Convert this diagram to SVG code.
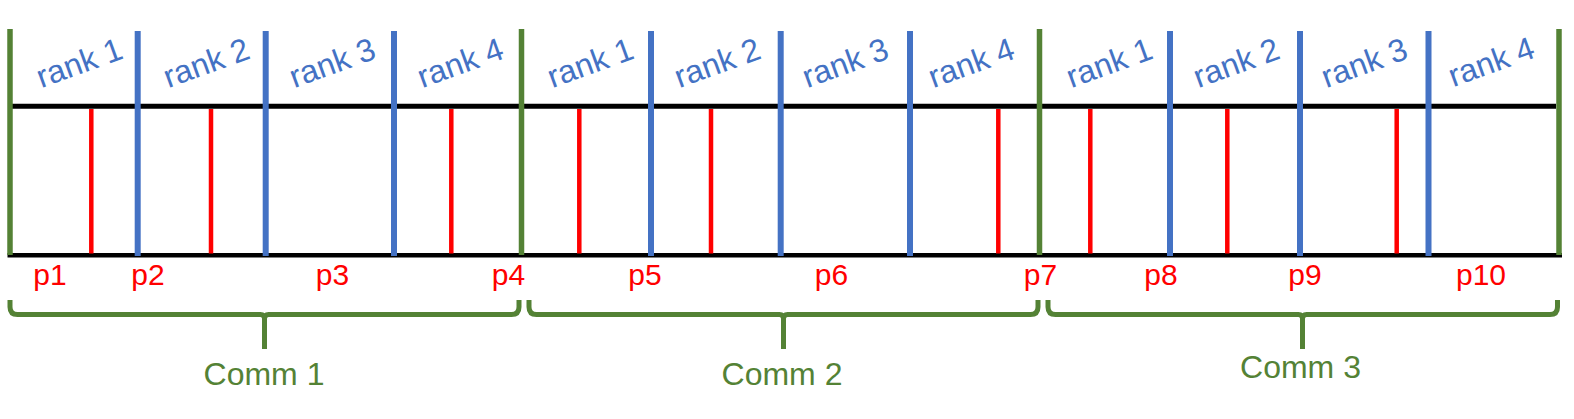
<svg xmlns="http://www.w3.org/2000/svg" width="1574" height="419" viewBox="0 0 1574 419">
<style>
.blk{stroke:#000;stroke-width:5;fill:none}
.grn{stroke:#548235;stroke-width:5.5;fill:none}
.blu{stroke:#4472C4;stroke-width:6;fill:none}
.red{stroke:#FF0000;stroke-width:4.5;fill:none}
.brace{stroke:#548235;stroke-width:5;fill:none}
.rank{font-family:"Liberation Sans",Arial,sans-serif;font-size:32px;fill:#4472C4;text-anchor:middle}
.p{font-family:"Liberation Sans",Arial,sans-serif;font-size:30px;fill:#FF0000;text-anchor:middle}
.comm{font-family:"Liberation Sans",Arial,sans-serif;font-size:32px;fill:#548235;text-anchor:middle}
</style>
<rect width="1574" height="419" fill="#fff"/>
<g id="axes">
<line class="blk" x1="12" y1="106.3" x2="1556" y2="106.3"/>
<line class="blk" x1="7.5" y1="255.3" x2="1562" y2="255.3" style="stroke-width:4.5"/>
</g>
<g id="dividers">
<line class="grn" x1="10" y1="29" x2="10" y2="255"/>
<line class="grn" x1="521.5" y1="29" x2="521.5" y2="255"/>
<line class="grn" x1="1039.5" y1="29" x2="1039.5" y2="255"/>
<line class="grn" x1="1559" y1="29" x2="1559" y2="255"/>
<line class="blu" x1="137.7" y1="31" x2="137.7" y2="256"/>
<line class="blu" x1="265.7" y1="31" x2="265.7" y2="256"/>
<line class="blu" x1="394" y1="31" x2="394" y2="256"/>
<line class="blu" x1="651" y1="31" x2="651" y2="256"/>
<line class="blu" x1="780.7" y1="31" x2="780.7" y2="256"/>
<line class="blu" x1="910" y1="31" x2="910" y2="256"/>
<line class="blu" x1="1170" y1="31" x2="1170" y2="256"/>
<line class="blu" x1="1300" y1="31" x2="1300" y2="256"/>
<line class="blu" x1="1428.5" y1="31" x2="1428.5" y2="256"/>
<line class="red" x1="91.3" y1="109" x2="91.3" y2="253.5"/>
<line class="red" x1="211" y1="109" x2="211" y2="253.5"/>
<line class="red" x1="451.3" y1="109" x2="451.3" y2="253.5"/>
<line class="red" x1="579.3" y1="109" x2="579.3" y2="253.5"/>
<line class="red" x1="711" y1="109" x2="711" y2="253.5"/>
<line class="red" x1="998.3" y1="109" x2="998.3" y2="253.5"/>
<line class="red" x1="1090.3" y1="109" x2="1090.3" y2="253.5"/>
<line class="red" x1="1227.3" y1="109" x2="1227.3" y2="253.5"/>
<line class="red" x1="1396.7" y1="109" x2="1396.7" y2="253.5"/>
</g>
<g id="ranks">
<text class="rank" transform="translate(83,73) rotate(-20)">rank 1</text>
<text class="rank" transform="translate(210,73) rotate(-20)">rank 2</text>
<text class="rank" transform="translate(336,73) rotate(-20)">rank 3</text>
<text class="rank" transform="translate(464,73) rotate(-20)">rank 4</text>
<text class="rank" transform="translate(594,73) rotate(-20)">rank 1</text>
<text class="rank" transform="translate(721,73) rotate(-20)">rank 2</text>
<text class="rank" transform="translate(849,73) rotate(-20)">rank 3</text>
<text class="rank" transform="translate(975,73) rotate(-20)">rank 4</text>
<text class="rank" transform="translate(1113,73) rotate(-20)">rank 1</text>
<text class="rank" transform="translate(1240,73) rotate(-20)">rank 2</text>
<text class="rank" transform="translate(1368,73) rotate(-20)">rank 3</text>
<text class="rank" transform="translate(1495,72) rotate(-20)">rank 4</text>
</g>
<g id="points">
<text class="p" x="50" y="285">p1</text>
<text class="p" x="148" y="285">p2</text>
<text class="p" x="332.5" y="285">p3</text>
<text class="p" x="508.5" y="285">p4</text>
<text class="p" x="645" y="285">p5</text>
<text class="p" x="831.5" y="285">p6</text>
<text class="p" x="1040.5" y="285">p7</text>
<text class="p" x="1161" y="285">p8</text>
<text class="p" x="1305" y="285">p9</text>
<text class="p" x="1481" y="285">p10</text>
</g>
<g id="comm1">
<path class="brace" d="M10,300 L10,307 Q10,314.5 17.5,314.5 L260.5,314.5 Q264.5,314.5 264.5,318.5 L264.5,349 M264.5,318.5 Q264.5,314.5 268.5,314.5 L511.5,314.5 Q519,314.5 519,307 L519,300"/>
<text class="comm" x="264" y="385">Comm 1</text>
</g>
<g id="comm2">
<path class="brace" d="M529,300 L529,307 Q529,314.5 536.5,314.5 L779.5,314.5 Q783.5,314.5 783.5,318.5 L783.5,349 M783.5,318.5 Q783.5,314.5 787.5,314.5 L1030.5,314.5 Q1038,314.5 1038,307 L1038,300"/>
<text class="comm" x="782" y="385">Comm 2</text>
</g>
<g id="comm3">
<path class="brace" d="M1048,300 L1048,307 Q1048,314.5 1055.5,314.5 L1298.5,314.5 Q1302.5,314.5 1302.5,318.5 L1302.5,349 M1302.5,318.5 Q1302.5,314.5 1306.5,314.5 L1550,314.5 Q1557.5,314.5 1557.5,307 L1557.5,300"/>
<text class="comm" x="1300.5" y="378">Comm 3</text>
</g>
</svg>
